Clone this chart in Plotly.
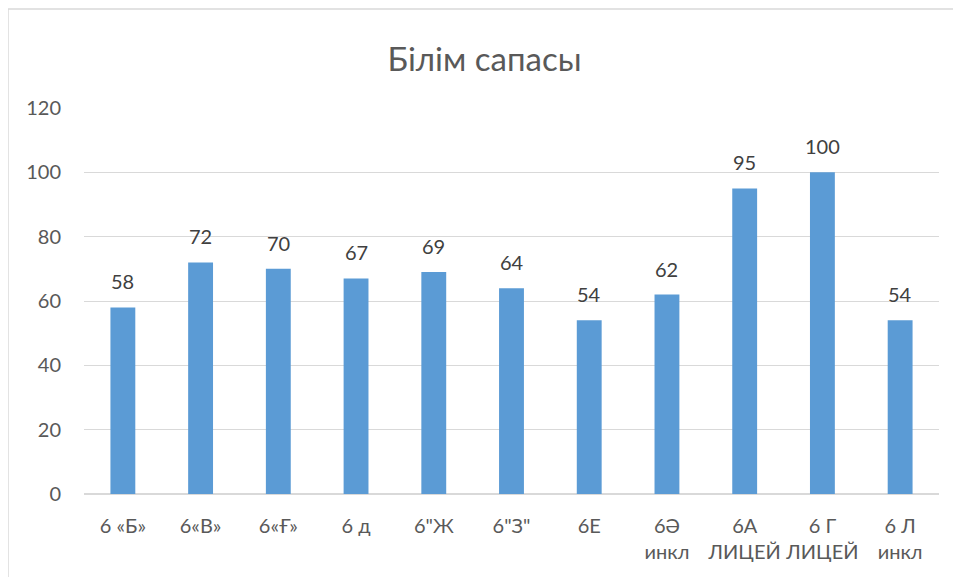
import plotly.graph_objects as go

# Білім сапасы по классам
classes = ['6 «Б»', '6«В»', '6«Ғ»', '6 д', '6"Ж', '6"З"', '6Е',
           '6Ә<br>инкл', '6А<br>ЛИЦЕЙ', '6 Г<br>ЛИЦЕЙ', '6 Л<br>инкл']
quality = [58, 72, 70, 67, 69, 64, 54, 62, 95, 100, 54]

font_family = "Lato, 'Open Sans', sans-serif"

fig = go.Figure(go.Bar(x=classes, y=quality, marker_color='#5B9BD5',
                       marker_line_width=0, hoverinfo='x+y'))

# value labels sit a bit above the bars
for c, v in zip(classes, quality):
    fig.add_annotation(x=c, y=v, text=str(v), showarrow=False, yanchor='bottom',
                       yshift=12, font=dict(size=20, color='#404040', family=font_family))

# chart frame
fig.add_shape(type='rect', xref='paper', yref='paper', x0=-0.0889, y0=-0.4, x1=1.2, y1=1.2565,
              line=dict(color='#D9D9D9', width=1.5), fillcolor='rgba(0,0,0,0)')

# page has 8px body margin, so the figure is a bit smaller
fig.update_layout(
    title=dict(text='Білім сапасы', x=0.5, xanchor='center', y=0.91, yanchor='middle',
               font=dict(size=33, color='#595959', family=font_family)),
    width=953, height=569,
    margin=dict(l=76, r=22, t=100, b=83),
    plot_bgcolor='white', paper_bgcolor='white',
    bargap=0.68, showlegend=False,
    font=dict(family=font_family, size=20, color='#595959'),
)
fig.update_xaxes(showline=False, showgrid=False, ticklabelstandoff=18, tickangle=0,
                 automargin=False, tickfont=dict(size=20, color='#595959'))
fig.update_yaxes(range=[0, 120], dtick=20, showgrid=True, gridcolor='#D9D9D9', gridwidth=1.3,
                 zeroline=True, zerolinecolor='#D9D9D9', zerolinewidth=1.5, automargin=False,
                 ticklabelstandoff=22, tickfont=dict(size=20, color='#595959'))

fig.write_html("out.html")
